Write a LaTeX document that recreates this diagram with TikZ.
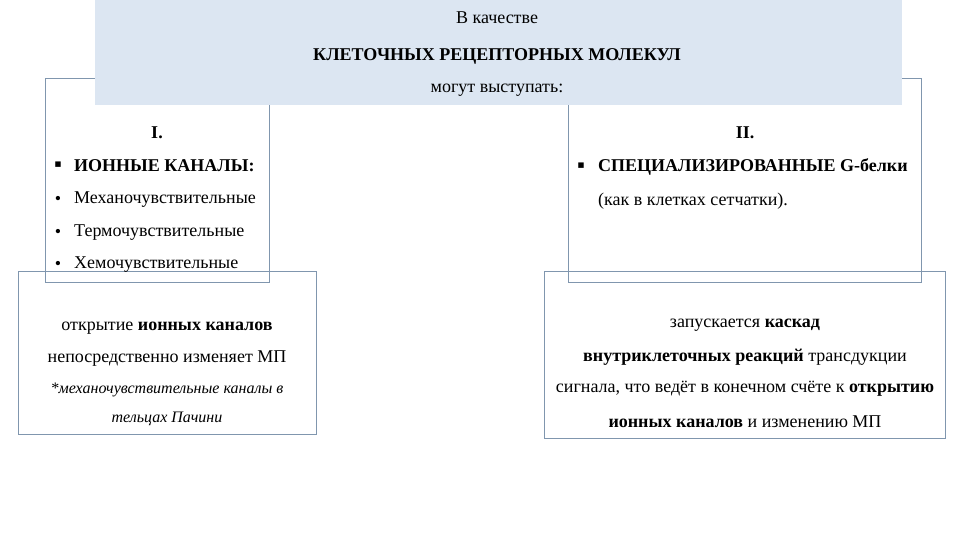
\documentclass[tikz,border=0pt]{standalone}
\usepackage{fontspec}
\setmainfont{Liberation Serif}
\newfontfamily\djvfont{DejaVu Sans}
\begin{document}
\begin{tikzpicture}[x=1pt,y=-1pt,
  bx/.style={draw=frame,line width=0.8pt},
  t/.style={font=\fontsize{18}{20}\selectfont,inner sep=0pt},
  tl/.style={t,anchor=west},
  it/.style={font=\fontsize{16}{18}\selectfont\itshape,inner sep=0pt}]
\definecolor{frame}{HTML}{8096AE}
\definecolor{topfill}{HTML}{DCE6F2}
\useasboundingbox (0,0) rectangle (960,540);
\draw[bx] (45,78) rectangle (269,282);
\draw[bx] (568,78) rectangle (921,282);
\draw[bx] (18,271) rectangle (316,434);
\draw[bx] (544,271) rectangle (945,438);
\fill[topfill] (95,0) rectangle (902,105);
\node[t] (a1) at (497,18) {В качестве};
\node[t,font=\fontsize{18}{20}\selectfont\bfseries] (a2) at (497,56) {КЛЕТОЧНЫХ РЕЦЕПТОРНЫХ МОЛЕКУЛ};
\node[t] (a3) at (497,90) {могут выступать:};
\node[t,font=\fontsize{18}{20}\selectfont\bfseries] (i) at (157,133) {I.};
\node[t,font=\fontsize{18}{20}\selectfont\bfseries] (ii) at (745,133) {II.};
\node[t] (b0) at (58,165) {\fontsize{11}{11}\selectfont\djvfont ▪};
\node[tl,font=\fontsize{18}{20}\selectfont\bfseries] (l0) at (74,166) {ИОННЫЕ КАНАЛЫ:};
\node[t] (b1) at (58,200) {•};
\node[tl] (l1) at (74,200) {Механочувствительные};
\node[t] (b2) at (58,233) {•};
\node[tl] (l2) at (74,233) {Термочувствительные};
\node[t] (b3) at (58,265) {•};
\node[tl] (l3) at (74,265) {Хемочувствительные};
\node[t] (b4) at (581,166) {\fontsize{11}{11}\selectfont\djvfont ▪};
\node[tl,font=\fontsize{18}{20}\selectfont\bfseries] (r0) at (598,167) {СПЕЦИАЛИЗИРОВАННЫЕ G-белки};
\node[tl] (r1) at (598,201) {(как в клетках сетчатки).};
\node[t] (c1) at (167,328) {открытие \textbf{ионных каналов}};
\node[t] (c2) at (167,359) {непосредственно изменяет МП};
\node[it] (c3) at (167,390) {*механочувствительные каналы в};
\node[it] (c4) at (167,419) {тельцах Пачини};
\node[t] (d1) at (745,325) {запускается \textbf{каскад}};
\node[t] (d2) at (745,357) {\textbf{внутриклеточных реакций} трансдукции};
\node[t] (d3) at (745,389) {сигнала, что ведёт в конечном счёте к \textbf{открытию}};
\node[t] (d4) at (745,422) {\textbf{ионных каналов} и изменению МП};
\end{tikzpicture}
\end{document}
